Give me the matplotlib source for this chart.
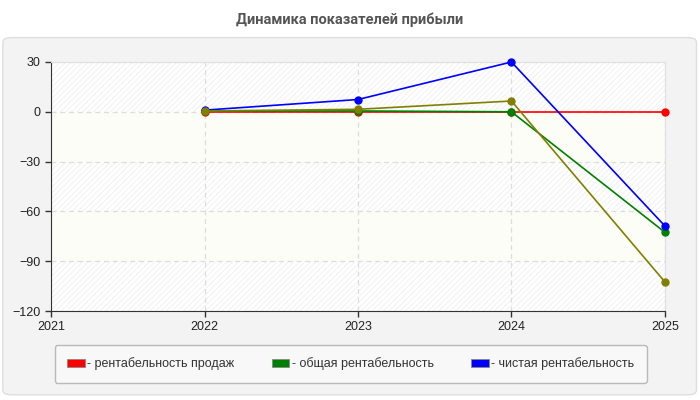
import matplotlib
matplotlib.use("Agg")
import matplotlib.pyplot as plt
from matplotlib.patches import FancyBboxPatch, Patch

plt.rcParams['font.family'] = ['Liberation Sans', 'DejaVu Sans']
plt.rcParams['hatch.linewidth'] = 0.6

# данные
years = [2022, 2023, 2024, 2025]
sales_margin = [0, 0, 0, 0]          # рентабельность продаж
total_margin = [0.5, 0.5, 0, -72.6]  # общая рентабельность
net_margin = [1, 7.4, 30, -68.8]     # чистая рентабельность
extra_series = [0.5, 1.5, 6.5, -102.5]
x_ticks = [2021, 2022, 2023, 2024, 2025]
y_ticks = [30, 0, -30, -60, -90, -120]
legend_labels = ['- рентабельность продаж', '- общая рентабельность', '- чистая рентабельность']

fig = plt.figure(figsize=(7, 4), dpi=100)
fig.patch.set_facecolor('white')

# серая подложка
panel = FancyBboxPatch((0.004, 0.013), 0.991, 0.893, boxstyle="round,pad=0,rounding_size=0.012",
                       transform=fig.transFigure, facecolor='#f3f3f3', edgecolor='#dedede',
                       linewidth=1, zorder=-10)
fig.patches.append(panel)

fig.text(0.5, 0.95, 'Динамика показателей прибыли', ha='center', va='center',
         fontsize=10.5, fontweight='bold', color='#555555', family=['Roboto', 'DejaVu Sans'])

ax = fig.add_axes([0.0729, 0.2225, 0.877, 0.6225])
ax.set_zorder(1)
ax.set_facecolor('white')

# полосы фона
for i in range(len(y_ticks) - 1):
    top, bot = y_ticks[i], y_ticks[i + 1]
    if i % 2 == 0:
        ax.axhspan(bot, top, facecolor='white', edgecolor='#efefef', hatch='//////', linewidth=0, zorder=0)
    else:
        ax.axhspan(bot, top, facecolor='#fdfdf7', edgecolor='none', linewidth=0, zorder=0)

ax.grid(True, color='#dddddd', linestyle=(0, (4, 3)), linewidth=0.9)
ax.set_axisbelow(True)

style = dict(marker='o', markersize=5, linewidth=1.2, zorder=3, clip_on=False)
ax.plot(years, sales_margin, color='#ff0000', **style)
ax.plot(years, total_margin, color='#008000', **style)
ax.plot(years, net_margin, color='#0000ff', **style)
ax.plot(years, extra_series, color='#808000', **style)

ax.set_xlim(2021, 2025)
ax.set_ylim(-120, 30)
ax.set_xticks(x_ticks)
ax.set_yticks(y_ticks)
ax.tick_params(axis='both', labelsize=9, labelcolor='#222222', color='#333333', length=4, width=1)

for side in ['top', 'right']:
    ax.spines[side].set_color('#e0e0e0')
for side in ['left', 'bottom']:
    ax.spines[side].set_color('#333333')

handles = [Patch(facecolor=c, edgecolor='#888888', linewidth=0.6)
           for c in ['#ff0000', '#008000', '#0000ff']]
leg = fig.legend(handles, legend_labels, loc='center', bbox_to_anchor=(0.501, 0.09), ncol=3,
                 fontsize=9, frameon=True, facecolor='#fafafa', edgecolor='#aaaaaa',
                 handlelength=1.4, handleheight=0.7, handletextpad=0.2, columnspacing=3.0,
                 borderpad=1.0, fancybox=True)
for t in leg.get_texts():
    t.set_color('#333333')

fig.savefig('out.png', dpi=100)
